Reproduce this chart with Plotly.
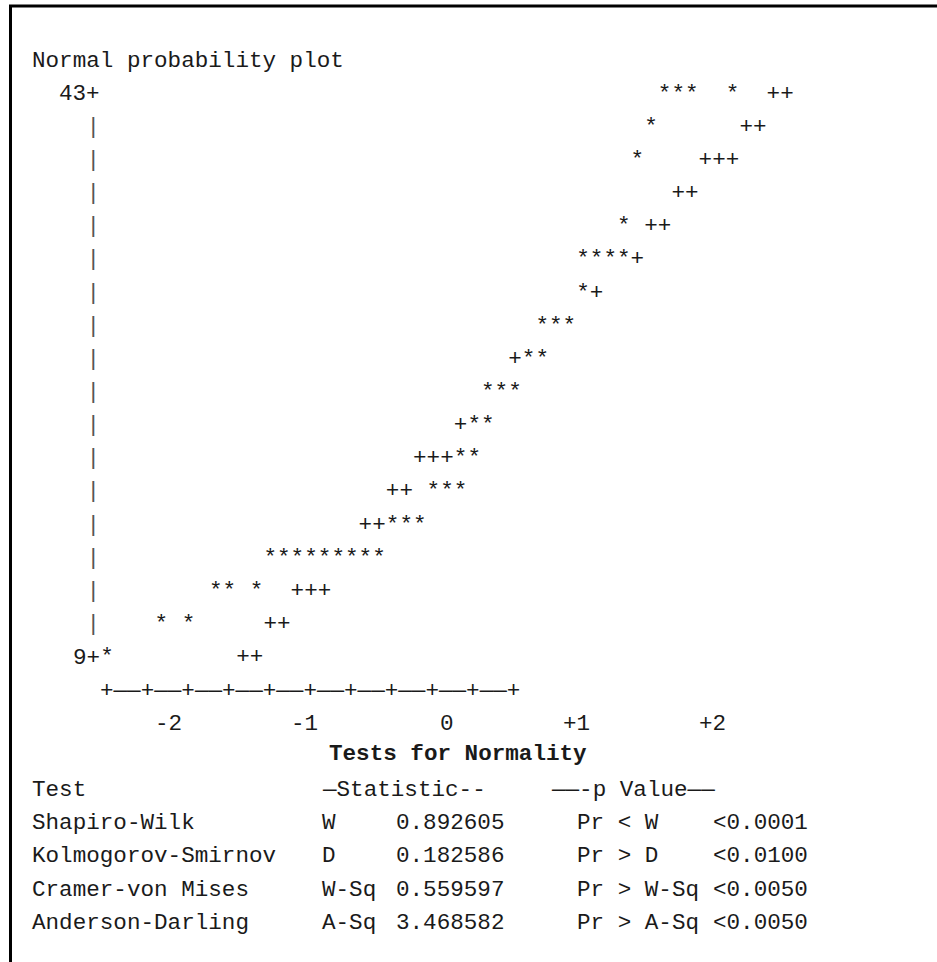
import plotly.graph_objects as go

# ---------------- data ----------------
# observations ('*'): normal quantile (z) and value
star_z = [1.6, 1.7, 1.8, 2.1,
          1.5,
          1.4,
          1.3,
          1.0, 1.1, 1.2, 1.3,
          1.0,
          0.7, 0.8, 0.9,
          0.6, 0.7,
          0.3, 0.4, 0.5,
          0.2, 0.3,
          0.1, 0.2,
          -0.1, 0.0, 0.1,
          -0.4, -0.3, -0.2,
          -1.3, -1.2, -1.1, -1.0, -0.9, -0.8, -0.7, -0.6, -0.5,
          -1.7, -1.6, -1.4,
          -2.1, -1.9,
          -2.5]
star_y = [43, 43, 43, 43,
          41,
          39,
          35,
          33, 33, 33, 33,
          31,
          29, 29, 29,
          27, 27,
          25, 25, 25,
          23, 23,
          21, 21,
          19, 19, 19,
          17, 17, 17,
          15, 15, 15, 15, 15, 15, 15, 15, 15,
          13, 13, 13,
          11, 11,
          9]

# reference line ('+')
plus_z = [2.4, 2.5,
          2.2, 2.3,
          1.9, 2.0, 2.1,
          1.7, 1.8,
          1.5, 1.6,
          1.4,
          1.1,
          0.5,
          0.1,
          -0.2, -0.1, 0.0,
          -0.4, -0.3,
          -0.6, -0.5,
          -1.1, -1.0, -0.9,
          -1.3, -1.2,
          -1.5, -1.4]
plus_y = [43, 43,
          41, 41,
          39, 39, 39,
          37, 37,
          35, 35,
          33,
          31,
          27,
          23,
          21, 21, 21,
          19, 19,
          17, 17,
          13, 13, 13,
          11, 11,
          9, 9]

y_tick_vals = [43, 9]
y_tick_text = ["43+", "9+"]
x_tick_vals = [-2, -1, 0, 1, 2]
x_tick_text = ["-2", "-1", "0", "+1", "+2"]

title_text = "Normal probability plot"
table_title = "Tests for Normality"
header_test = "Test"
header_stat = "\u2014Statistic--"
header_p = "\u2014\u2014-p Value\u2014\u2014"
tests = ["Shapiro-Wilk", "Kolmogorov-Smirnov", "Cramer-von Mises", "Anderson-Darling"]
stat_names = ["W", "D", "W-Sq", "A-Sq"]
stat_vals = ["0.892605", "0.182586", "0.559597", "3.468582"]
p_labels = ["Pr < W", "Pr > D", "Pr > W-Sq", "Pr > A-Sq"]
p_vals = ["<0.0001", "<0.0100", "<0.0050", "<0.0050"]

# ---------------- layout constants ----------------
W, H = 937, 962
FONT = "Courier New, Liberation Mono, monospace"
FS = 22.6
CELL = 13.6            # px per character column
Z0_PX = 447.0          # pixel x of z = 0
PX_PER_Z = CELL * 10   # 10 columns per unit of z
ROW = 33.15            # px per text row
TOP_PX = 94.0          # pixel y of the top value row
YSTEP = 2              # data units per row
Y_TOP = y_tick_vals[0]
PX_PER_Y = ROW / YSTEP

x_range = [(0 - Z0_PX) / PX_PER_Z, (W - Z0_PX) / PX_PER_Z]
y_range = [Y_TOP - (H - TOP_PX) / PX_PER_Y, Y_TOP + TOP_PX / PX_PER_Y]


def col_z(c):
    """centre of character column c (col 25 is z = 0)"""
    return (c - 25) / 10.0


def row_y(r):
    return Y_TOP - YSTEP * r


def px_z(px):
    return (px - Z0_PX) / PX_PER_Z


fig = go.Figure()

txtfont = dict(family=FONT, size=FS, color="#1a1a1a")

fig.add_trace(go.Scatter(x=star_z, y=star_y, mode="text", text=["*"] * len(star_z),
                         textposition="middle center", textfont=txtfont,
                         hoverinfo="x+y", showlegend=False, cliponaxis=False))
fig.add_trace(go.Scatter(x=plus_z, y=plus_y, mode="text", text=["+"] * len(plus_z),
                         textposition="middle center", textfont=txtfont,
                         hoverinfo="x+y", showlegend=False, cliponaxis=False))

# vertical axis made of '|'
bar_y = list(range(y_tick_vals[1] + YSTEP, y_tick_vals[0], YSTEP))
fig.add_trace(go.Scatter(x=[col_z(-1)] * len(bar_y), y=bar_y, mode="text",
                         text=["|"] * len(bar_y), textposition="middle center",
                         textfont=dict(family=FONT, size=FS, color="#555555"),
                         hoverinfo="skip", showlegend=False, cliponaxis=False))

annotations = []


def add_text(x, y, text, anchor="left", bold=False):
    annotations.append(dict(x=x, y=y, xref="x", yref="y", text=("<b>%s</b>" % text) if bold else text,
                            showarrow=False, xanchor=anchor, yanchor="middle",
                            font=txtfont, borderpad=0, borderwidth=0))


# y tick labels, ending at the axis column
for v, t in zip(y_tick_vals, y_tick_text):
    add_text(col_z(-1) + 0.05, v, t, anchor="right")

# x axis line
axis_row = (Y_TOP - y_tick_vals[1]) / YSTEP + 1
axis_str = "+" + ("\u2014\u2014+" * 10)
add_text(col_z(0) - 0.05, row_y(axis_row), axis_str)

# x tick labels, right aligned on column 25 + 10*z
for v, t in zip(x_tick_vals, x_tick_text):
    add_text(v + 0.05, row_y(axis_row + 1), t, anchor="right")

# title
add_text(col_z(-5) - 0.05, row_y(-1), title_text)

# tests table
add_text(px_z(329), row_y(axis_row + 1.9), table_title, bold=True)
hr = axis_row + 3
add_text(col_z(-5) - 0.05, row_y(hr), header_test)
add_text(px_z(322), row_y(hr), header_stat)
add_text(px_z(551), row_y(hr), header_p)
for i in range(len(tests)):
    r = hr + 1 + i
    add_text(col_z(-5) - 0.05, row_y(r), tests[i])
    add_text(px_z(322), row_y(r), stat_names[i])
    add_text(px_z(396), row_y(r), stat_vals[i])
    add_text(px_z(577), row_y(r), p_labels[i])
    add_text(px_z(713), row_y(r), p_vals[i])

fig.update_layout(
    width=W, height=H,
    margin=dict(l=0, r=0, t=0, b=0),
    paper_bgcolor="white", plot_bgcolor="white",
    xaxis=dict(range=x_range, visible=False, fixedrange=True),
    yaxis=dict(range=y_range, visible=False, fixedrange=True),
    annotations=annotations,
    shapes=[dict(type="rect", xref="paper", yref="paper",
                 x0=10.5 / W, x1=1.2, y0=-0.2, y1=1 - 6 / H,
                 line=dict(color="black", width=3), fillcolor="rgba(0,0,0,0)")],
    showlegend=False,
)

fig.write_html("out.html", config={"displayModeBar": False})
